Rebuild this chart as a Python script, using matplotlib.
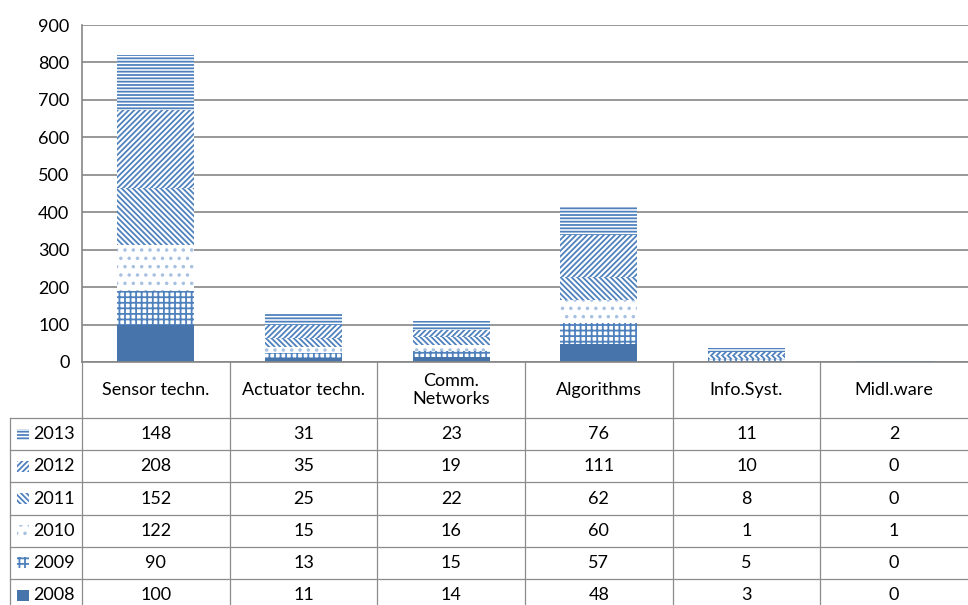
import numpy as np
import matplotlib.pyplot as plt
from matplotlib.patches import Rectangle
from matplotlib.lines import Line2D

categories = ['Sensor techn.', 'Actuator techn.', 'Comm.\nNetworks',
              'Algorithms', 'Info.Syst.', 'Midl.ware']
years = ['2008', '2009', '2010', '2011', '2012', '2013']
v2008 = [100, 11, 14, 48, 3, 0]
v2009 = [90, 13, 15, 57, 5, 0]
v2010 = [122, 15, 16, 60, 1, 1]
v2011 = [152, 25, 22, 62, 8, 0]
v2012 = [208, 35, 19, 111, 10, 0]
v2013 = [148, 31, 23, 76, 11, 2]
series = [v2008, v2009, v2010, v2011, v2012, v2013]
yticks = list(range(0, 1000, 100))

# Styles
solid = '#4674ab'
blue = '#4f81bd'
hatches = [None, '+++', '..', '\\' * 6, '/' * 6, '-----']
hatch_cols = [solid, blue, '#a9c1e0', blue, blue, blue]
grid_col = '#868686'
line_col = '#8c8c8c'
fs = 13

plt.rcParams['font.family'] = ['Lato', 'DejaVu Sans']
plt.rcParams['hatch.linewidth'] = 1.3

W, H = 968, 605
fig = plt.figure(figsize=(W / 100, H / 100), dpi=100)


def fx(px):
    return px / W


def fy(py):
    return 1 - py / H


# chart area
x0, x1, ytop, y0 = 82, 968, 25, 362
ax = fig.add_axes([fx(x0), fy(y0), fx(x1) - fx(x0), fy(ytop) - fy(y0)])

x = np.arange(len(categories))
bottom = np.zeros(len(categories))
for vals, hatch, hc in zip(series, hatches, hatch_cols):
    if hatch is None:
        ax.bar(x, vals, 0.52, bottom=bottom, color=solid, linewidth=0, zorder=2)
    else:
        ax.bar(x, vals, 0.52, bottom=bottom, facecolor='white', edgecolor=hc,
               hatch=hatch, linewidth=0, zorder=2)
    bottom += np.array(vals)

ax.set_xlim(-0.5, len(categories) - 0.5)
ax.set_ylim(0, 900)
ax.set_yticks(yticks)
ax.set_xticks([])
ax.yaxis.grid(True, color=grid_col, linewidth=1.2)
ax.set_axisbelow(True)
ax.tick_params(axis='y', length=0, pad=9, labelsize=fs)
for s in ['top', 'right']:
    ax.spines[s].set_visible(False)
for s in ['left', 'bottom']:
    ax.spines[s].set_color(grid_col)
    ax.spines[s].set_linewidth(1.2)

# data table below the chart
col_w = (x1 - x0) / len(categories)
head_bot = 418
row_h = 32.2
lab_left = 10


def hline(py, xa, xb):
    fig.add_artist(Line2D([fx(xa), fx(xb)], [fy(py), fy(py)],
                          color=line_col, linewidth=0.9))


def vline(px, ya, yb):
    fig.add_artist(Line2D([fx(px), fx(px)], [fy(ya), fy(yb)],
                          color=line_col, linewidth=0.9))


for k in range(len(categories)):
    vline(x0 + k * col_w, y0, H)
    fig.text(fx(x0 + (k + 0.5) * col_w), fy((y0 + head_bot) / 2), categories[k],
             ha='center', va='center', fontsize=fs, linespacing=1.15)
vline(lab_left, head_bot, H)

rows = list(zip(years, series, hatches, hatch_cols))[::-1]
for r, (yr, vals, hatch, hc) in enumerate(rows):
    top = head_bot + r * row_h
    hline(top, lab_left, x1)
    cy = top + row_h / 2
    if hatch is None:
        key = Rectangle((fx(17), fy(cy + 5.5)), fx(12), 11 / H,
                        transform=fig.transFigure, facecolor=solid, linewidth=0)
    else:
        key = Rectangle((fx(17), fy(cy + 5.5)), fx(12), 11 / H,
                        transform=fig.transFigure, facecolor='white',
                        edgecolor=hc, hatch=hatch, linewidth=0)
    fig.add_artist(key)
    fig.text(fx(33), fy(cy), yr, ha='left', va='center', fontsize=fs)
    for k, v in enumerate(vals):
        fig.text(fx(x0 + (k + 0.5) * col_w), fy(cy), str(v),
                 ha='center', va='center', fontsize=fs)

fig.savefig('out.png', dpi=100)
